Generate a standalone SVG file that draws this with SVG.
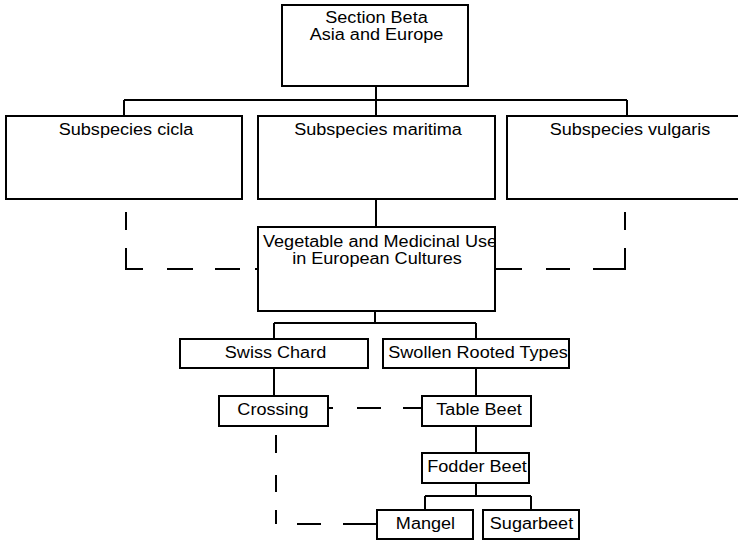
<svg xmlns="http://www.w3.org/2000/svg" width="738" height="541" viewBox="0 0 738 541">
<style>
.box{fill:none;stroke:#000;stroke-width:2}
.t{font-family:"Liberation Sans",Arial,Helvetica,sans-serif;font-size:16px;fill:#000;text-anchor:middle}
.ln{fill:none;stroke:#000;stroke-width:2}
.dash{fill:none;stroke:#000;stroke-width:2}
</style>
<defs>
<clipPath id="vegClip"><rect x="258" y="227" width="236" height="84"/></clipPath>
</defs>
<rect width="738" height="541" fill="#fff"/>
<g id="connectors">
<path class="ln" d="M376,86V100M124,100H627M124,100V116M376,100V116M627,100V116"/>
<path class="ln" d="M376,199V227"/>
<path class="ln" d="M375,311V323M274,323H476M274,323V339M476,323V339"/>
<path class="ln" d="M274,368V396M476,368V396M476,426V453"/>
<path class="ln" d="M476,483V496M425,496H531M425,496V510M531,496V510"/>
<path class="dash" d="M126,212V269H258" stroke-dasharray="18 18 38 24 26 22 25 15 3"/>
<path class="dash" d="M495,269H625V212" stroke-dasharray="27 24 24 23 53 18 18"/>
<path class="dash" d="M328,408H422" stroke-dasharray="5 24 24 22 19"/>
<path class="dash" d="M276,426V524H377" stroke-dasharray="0 9 18 22 17 18 14 21 24 22 34"/>
</g>
<g id="section-beta">
<text class="t" transform="translate(376.5,23) scale(1.13,1)">Section Beta</text>
<text class="t" transform="translate(376.5,40) scale(1.13,1)">Asia and Europe</text>
<rect class="box" x="282" y="5" width="186" height="81"/>
</g>
<g id="cicla">
<text class="t" transform="translate(126,135) scale(1.13,1)">Subspecies cicla</text>
<rect class="box" x="6" y="116" width="236" height="83"/>
</g>
<g id="maritima">
<text class="t" transform="translate(378,135) scale(1.13,1)">Subspecies maritima</text>
<rect class="box" x="258" y="116" width="237" height="83"/>
</g>
<g id="vulgaris">
<text class="t" transform="translate(630,135) scale(1.13,1)">Subspecies vulgaris</text>
<rect class="box" x="507" y="116" width="240" height="83"/>
</g>
<g id="vegetable">
<g clip-path="url(#vegClip)">
<text class="t" transform="translate(380,247) scale(1.13,1)">Vegetable and Medicinal Use</text>
<text class="t" transform="translate(377,263.5) scale(1.13,1)">in European Cultures</text>
</g>
<rect class="box" x="258" y="227" width="237" height="84"/>
</g>
<g id="swiss-chard">
<text class="t" transform="translate(275.5,358) scale(1.13,1)">Swiss Chard</text>
<rect class="box" x="180" y="339" width="188" height="29"/>
</g>
<g id="swollen">
<text class="t" transform="translate(478,358) scale(1.13,1)">Swollen Rooted Types</text>
<rect class="box" x="383" y="339" width="186" height="29"/>
</g>
<g id="crossing">
<text class="t" transform="translate(273,415) scale(1.13,1)">Crossing</text>
<rect class="box" x="219" y="396" width="109" height="30"/>
</g>
<g id="table-beet">
<text class="t" transform="translate(479,415) scale(1.13,1)">Table Beet</text>
<rect class="box" x="422" y="396" width="109" height="30"/>
</g>
<g id="fodder-beet">
<text class="t" transform="translate(477,472) scale(1.13,1)">Fodder Beet</text>
<rect class="box" x="422" y="453" width="107" height="30"/>
</g>
<g id="mangel">
<text class="t" transform="translate(425.5,529) scale(1.13,1)">Mangel</text>
<rect class="box" x="377" y="510" width="96" height="29"/>
</g>
<g id="sugarbeet">
<text class="t" transform="translate(531.5,529) scale(1.13,1)">Sugarbeet</text>
<rect class="box" x="483" y="510" width="96" height="29"/>
</g>
</svg>
